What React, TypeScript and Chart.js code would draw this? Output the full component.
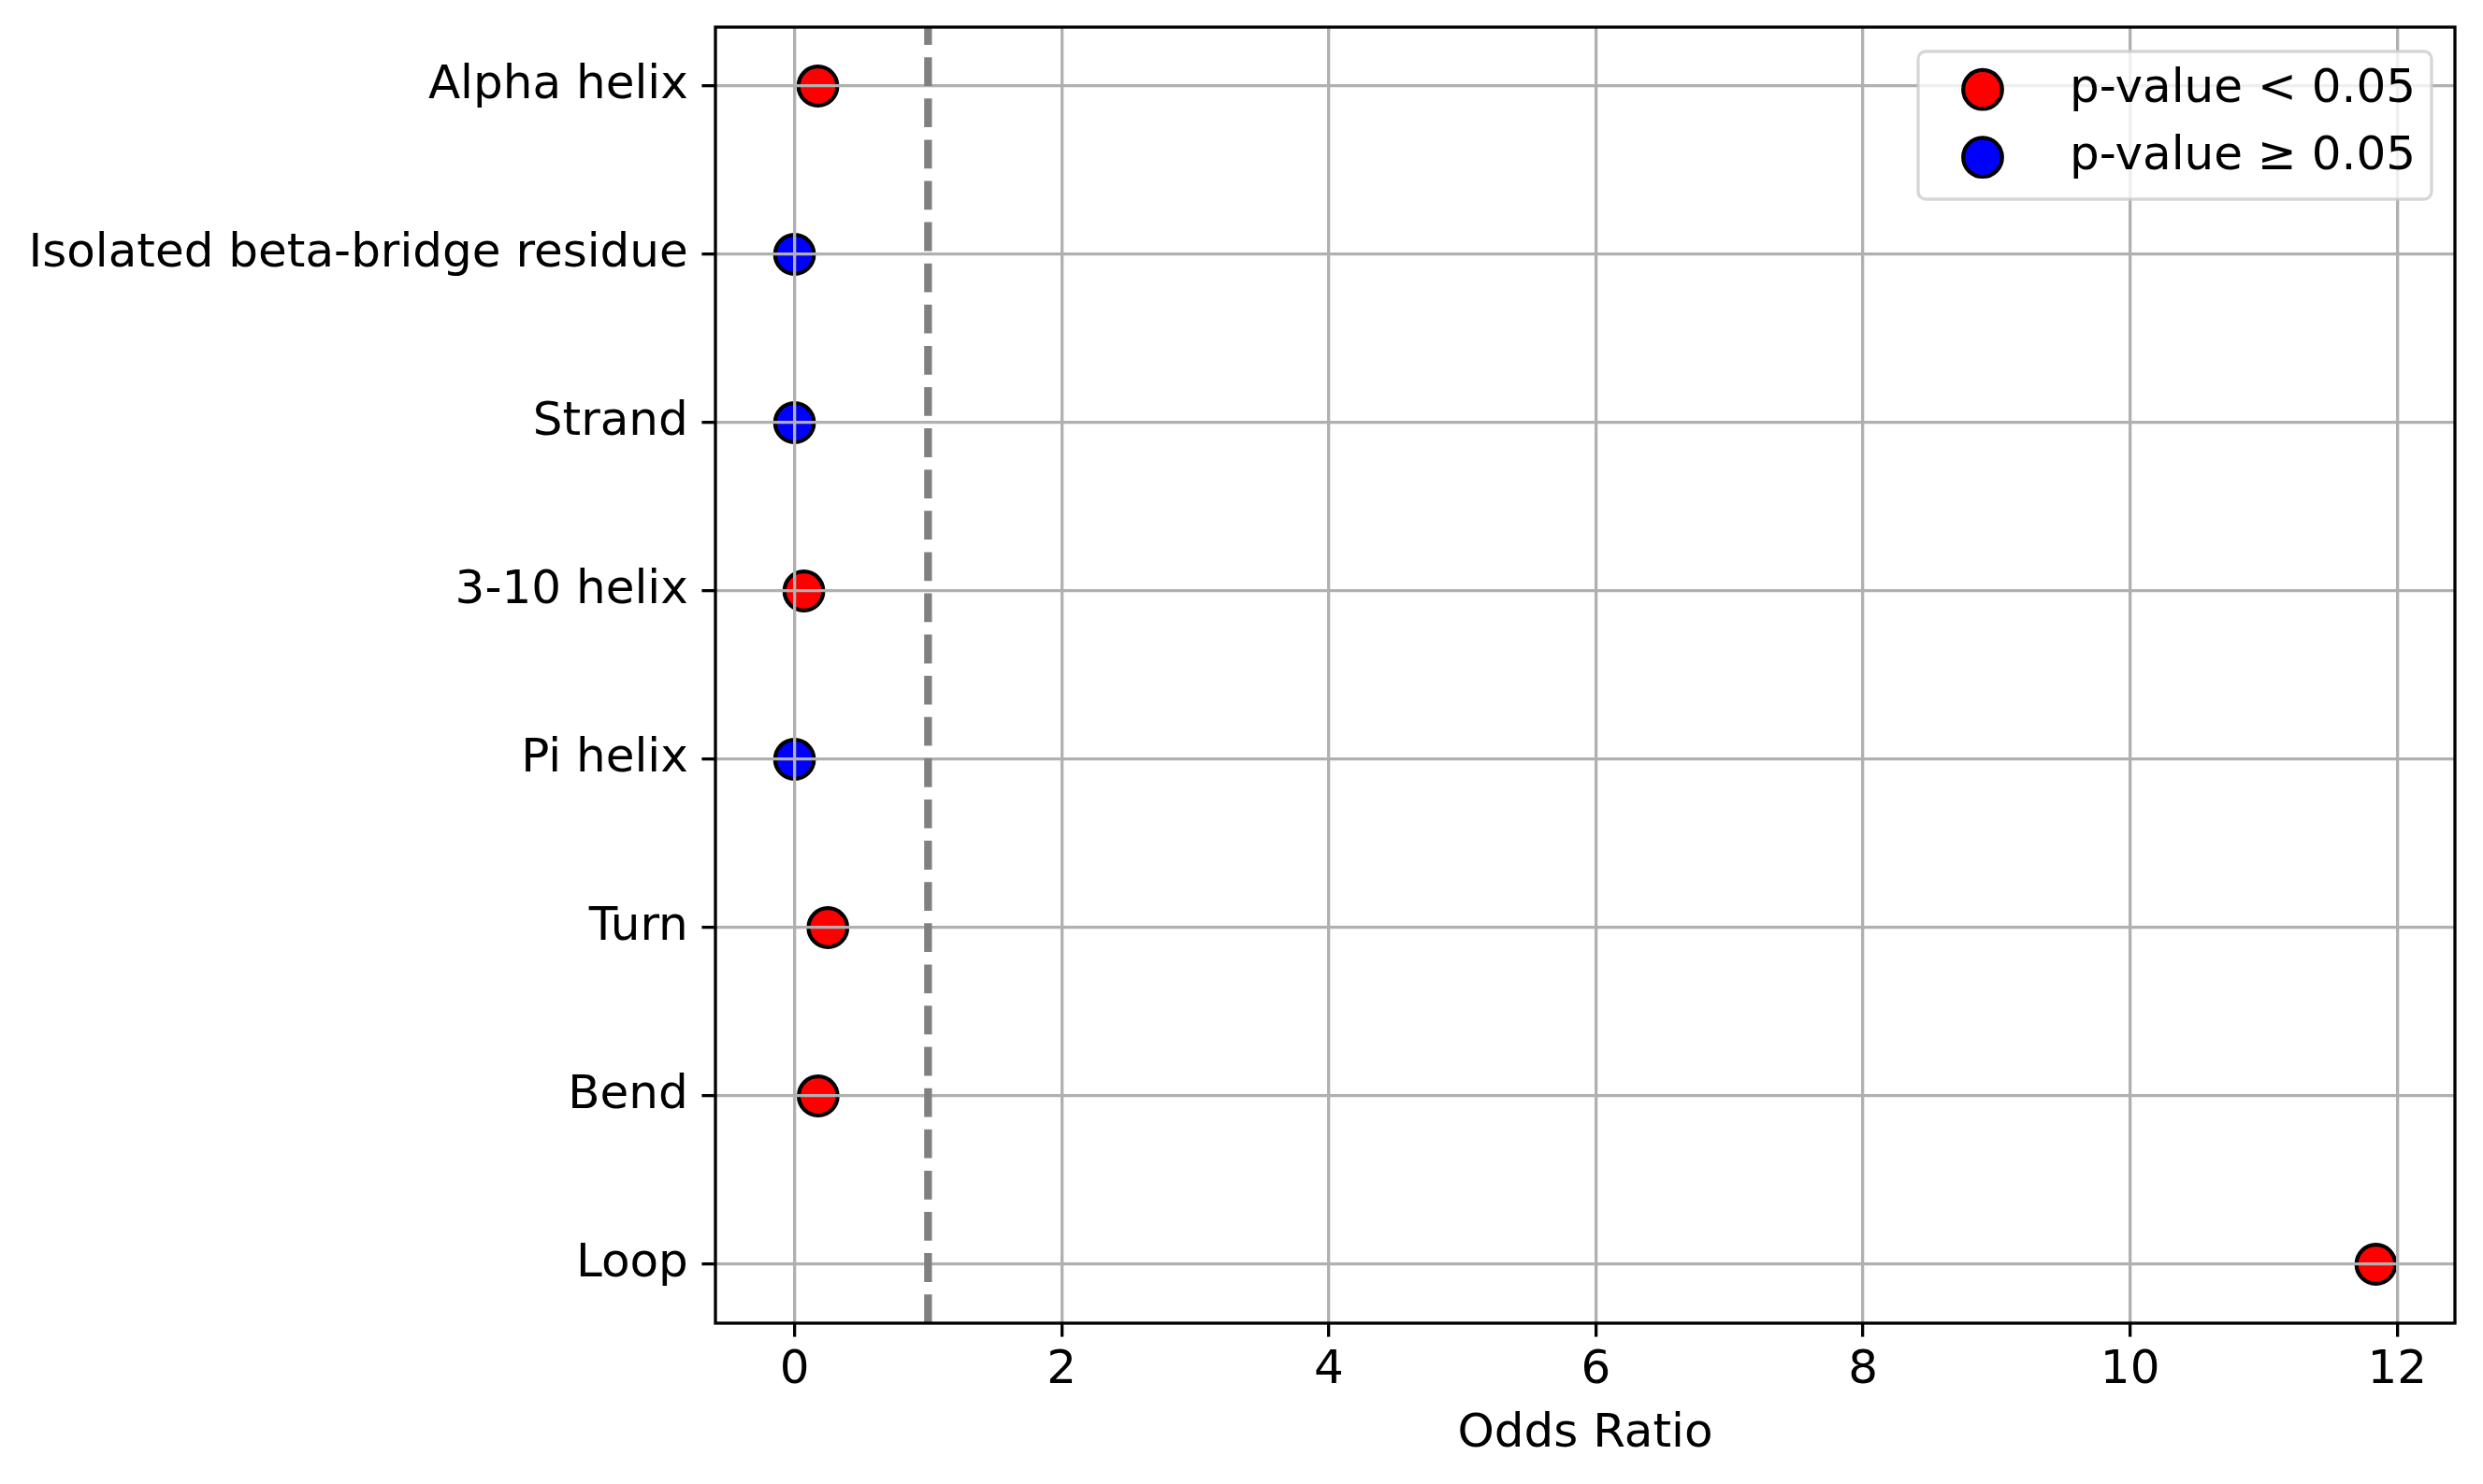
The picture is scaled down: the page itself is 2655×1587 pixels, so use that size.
import React, { useRef, useEffect } from 'react';
import Chart from 'chart.js/auto';

const categories = [
    'Alpha helix',
    'Isolated beta-bridge residue',
    'Strand',
    '3-10 helix',
    'Pi helix',
    'Turn',
    'Bend',
    'Loop',
];
const oddsRatios = [0.175, 0.0, 0.0, 0.07, 0.0, 0.25, 0.177, 11.84];
const significant = [true, false, false, true, false, true, true, true];
const xTicks = [0, 2, 4, 6, 8, 10, 12];
const legendLabels = ['p-value < 0.05', 'p-value \u2265 0.05'];
const referenceLine = 1;

const FONT = '"DejaVu Sans", sans-serif';

// dashed reference line, the four spines and the boxed legend
const decorPlugin = {
    id: 'decor',
    afterDraw(chart: any) {
        const { ctx, chartArea: a, scales } = chart;
        const x = scales.x.getPixelForValue(referenceLine);
        ctx.save();

        ctx.strokeStyle = '#808080';
        ctx.lineWidth = 8.3;
        ctx.lineCap = 'butt';
        ctx.setLineDash([30.8, 13.3]);
        ctx.beginPath();
        ctx.moveTo(x, a.bottom);
        ctx.lineTo(x, a.top);
        ctx.stroke();
        ctx.setLineDash([]);

        ctx.strokeStyle = '#000';
        ctx.lineWidth = 3.3;
        ctx.strokeRect(a.left, a.top, a.right - a.left, a.bottom - a.top);

        const w = 549;
        const h = 158;
        const left = a.right - 25 - w;
        const top = a.top + 26;
        ctx.beginPath();
        ctx.roundRect(left, top, w, h, 8);
        ctx.fillStyle = 'rgba(255,255,255,0.8)';
        ctx.fill();
        ctx.strokeStyle = 'rgba(204,204,204,0.8)';
        ctx.lineWidth = 3.3;
        ctx.stroke();

        ctx.font = `50px ${FONT}`;
        ctx.textAlign = 'left';
        ctx.textBaseline = 'middle';
        chart.data.datasets.forEach((ds: any, i: number) => {
            const cy = top + 40.7 + i * 72.5;
            ctx.beginPath();
            ctx.arc(left + 69, cy, 20.8, 0, Math.PI * 2);
            ctx.fillStyle = ds.pointBackgroundColor;
            ctx.fill();
            ctx.strokeStyle = '#000';
            ctx.lineWidth = 4.2;
            ctx.stroke();
            ctx.fillStyle = '#000';
            ctx.fillText(ds.label, left + 162, cy);
        });

        ctx.restore();
    },
};

const OddsRatioChart: React.FC = () => {
    const canvasRef = useRef<HTMLCanvasElement | null>(null);
    const chartRef = useRef<Chart | null>(null);

    useEffect(() => {
        document.body.style.margin = '0';
        if (!canvasRef.current) return;
        const ctx = canvasRef.current.getContext('2d');
        if (!ctx) return;

        if (chartRef.current) {
            chartRef.current.destroy();
        }

        const sigPoints = categories
            .map((_, i) => ({ x: oddsRatios[i], y: i }))
            .filter((_, i) => significant[i]);
        const nonSigPoints = categories
            .map((_, i) => ({ x: oddsRatios[i], y: i }))
            .filter((_, i) => !significant[i]);

        const xMinData = Math.min(...oddsRatios);
        const xMaxData = Math.max(...oddsRatios);
        const xPad = (xMaxData - xMinData) * 0.05;
        const yPad = (categories.length - 1) * 0.05;

        const gridOpts = {
            z: 1,
            color: '#b0b0b0',
            lineWidth: 3.3,
            drawTicks: true,
            tickLength: 14.6,
            tickColor: '#000',
            tickWidth: 3.3,
        };

        chartRef.current = new Chart(ctx, {
            type: 'scatter',
            data: {
                datasets: [
                    {
                        label: legendLabels[0],
                        data: sigPoints,
                        pointBackgroundColor: '#ff0000',
                        backgroundColor: '#ff0000',
                        pointBorderColor: '#000',
                        borderColor: '#000',
                        pointBorderWidth: 4.2,
                        pointRadius: 20.8,
                        pointHoverRadius: 20.8,
                    },
                    {
                        label: legendLabels[1],
                        data: nonSigPoints,
                        pointBackgroundColor: '#0000ff',
                        backgroundColor: '#0000ff',
                        pointBorderColor: '#000',
                        borderColor: '#000',
                        pointBorderWidth: 4.2,
                        pointRadius: 20.8,
                        pointHoverRadius: 20.8,
                    },
                ],
            },
            options: {
                responsive: false,
                animation: false,
                devicePixelRatio: 1,
                layout: { padding: { top: 29, right: 30, left: 0, bottom: 0 } },
                plugins: {
                    legend: { display: false },
                    tooltip: { enabled: false },
                },
                scales: {
                    x: {
                        type: 'linear',
                        min: xMinData - xPad,
                        max: xMaxData + xPad,
                        afterBuildTicks: (scale: any) => {
                            scale.ticks = xTicks.map(v => ({ value: v }));
                        },
                        afterFit: (scale: any) => {
                            scale.height = 172;
                            scale.paddingLeft = 0;
                            scale.paddingRight = 0;
                        },
                        grid: gridOpts,
                        border: { display: false },
                        ticks: {
                            color: '#000',
                            font: { family: FONT, size: 50 },
                            padding: 6,
                            maxRotation: 0,
                            autoSkip: false,
                            callback: (v: any) => String(v),
                        },
                        title: {
                            display: true,
                            text: 'Odds Ratio',
                            color: '#000',
                            font: { family: FONT, size: 50 },
                            padding: { top: 0, bottom: 23 },
                        },
                    },
                    y: {
                        type: 'linear',
                        reverse: true,
                        min: -yPad,
                        max: categories.length - 1 + yPad,
                        afterBuildTicks: (scale: any) => {
                            scale.ticks = categories.map((_, i) => ({ value: i }));
                        },
                        afterFit: (scale: any) => {
                            scale.width = 765;
                            scale.paddingTop = 0;
                            scale.paddingBottom = 0;
                        },
                        grid: gridOpts,
                        border: { display: false },
                        ticks: {
                            color: '#000',
                            font: { family: FONT, size: 50 },
                            padding: 14.6,
                            autoSkip: false,
                            callback: (v: any) => categories[v] ?? '',
                        },
                    },
                },
            },
            plugins: [decorPlugin],
        });

        return () => {
            if (chartRef.current) {
                chartRef.current.destroy();
                chartRef.current = null;
            }
        };
    }, []);

    return (
        <div style={{ width: 2655, height: 1587, background: '#fff' }}>
            <canvas ref={canvasRef} width={2655} height={1587} style={{ display: 'block' }}></canvas>
        </div>
    );
};

export default function App() {
    return <OddsRatioChart />;
}
